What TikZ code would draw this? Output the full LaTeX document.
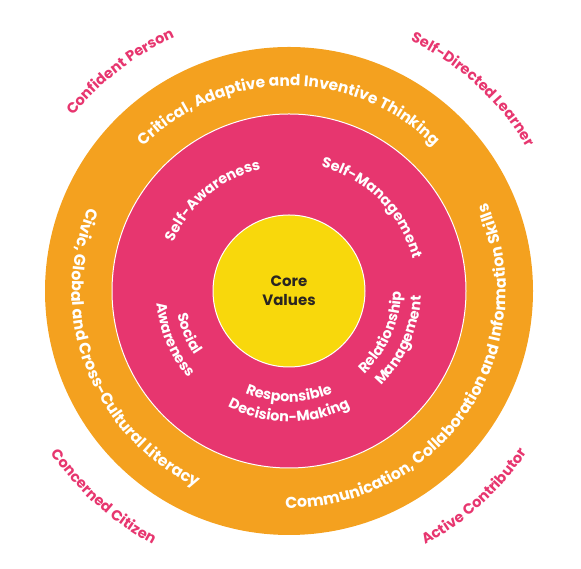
\documentclass[tikz,border=0pt]{standalone}
\usepackage{fontspec}
\setmainfont{Poppins}
\usepackage{tikz}
\usetikzlibrary{decorations.text, math}

\definecolor{ring-orange}{HTML}{F4A11F}
\definecolor{ring-pink}{HTML}{E7366F}
\definecolor{core-yellow}{HTML}{F8D80C}
\definecolor{core-dark}{HTML}{2A2522}

\begin{document}
\begin{tikzpicture}[x=1pt, y=1pt,
    arc-text/.style n args={3}{decorate, decoration={text along path, text align=center, text color=#1, text={|\bfseries\fontsize{#2}{#2}\selectfont|#3}}}]
    \tikzmath{\xC = 289; \yC = 278; \rOuter = 244; \rMid = 177; \rCore = 76;}
    \useasboundingbox (0,0) rectangle (581,569);

    \node[circle, inner sep=0pt, minimum size=2*\rOuter, fill=ring-orange](outer-ring) at (\xC,\yC) {};
    \node[circle, inner sep=0pt, minimum size=2*\rMid, fill=ring-pink, draw=white, line width=1pt](mid-ring) at (\xC,\yC) {};
    \node[circle, inner sep=0pt, minimum size=2*\rCore, fill=core-yellow, draw=white, line width=1pt](core-circle) at (\xC,\yC) {};

    \node[align=center, font=\bfseries\fontsize{15}{19}\selectfont, text=core-dark](core-values) at (\xC,\yC) {Core\\Values};

    \path[arc-text={ring-pink}{14.6}{Confident Person}] (outer-ring.center) ++(167.6:278) arc[start angle=167.6, end angle=87.6, radius=278];
    \path[arc-text={ring-pink}{14.6}{Self-Directed Learner}] (outer-ring.center) ++(97.6:278) arc[start angle=97.6, end angle=-2.4, radius=278];
    \path[arc-text={ring-pink}{14.6}{Concerned Citizen}] (outer-ring.center) ++(188:288) arc[start angle=188, end angle=268, radius=288];
    \path[arc-text={ring-pink}{14.6}{Active Contributor}] (outer-ring.center) ++(272:288) arc[start angle=272, end angle=352, radius=288];

    \path[arc-text={white}{15.4}{Critical, Adaptive and Inventive Thinking}] (outer-ring.center) ++(170:205) arc[start angle=170, end angle=10, radius=205];
    \path[arc-text={white}{15.8}{Civic, Global and Cross-Cultural Literacy}] (outer-ring.center) ++(121:217) arc[start angle=121, end angle=281, radius=217];
    \path[arc-text={white}{15.8}{Communication, Collaboration and Information Skills}] (outer-ring.center) ++(236.5:217) arc[start angle=236.5, end angle=416.5, radius=217];

    \path[arc-text={white}{14.4}{Self-Awareness}] (mid-ring.center) ++(190:125) arc[start angle=190, end angle=70, radius=125];
    \path[arc-text={white}{14.4}{Self-Management}] (mid-ring.center) ++(105:128) arc[start angle=105, end angle=-15, radius=128];
    \path[arc-text={white}{14.4}{Social}] (mid-ring.center) ++(143:114) arc[start angle=143, end angle=263, radius=114];
    \path[arc-text={white}{14.4}{Awareness}] (mid-ring.center) ++(143:133) arc[start angle=143, end angle=263, radius=133];
    \path[arc-text={white}{14.4}{Responsible}] (mid-ring.center) ++(210:111) arc[start angle=210, end angle=330, radius=111];
    \path[arc-text={white}{14.4}{Decision-Making}] (mid-ring.center) ++(210:131) arc[start angle=210, end angle=330, radius=131];
    \path[arc-text={white}{14.4}{Relationship}] (mid-ring.center) ++(276:112) arc[start angle=276, end angle=396, radius=112];
    \path[arc-text={white}{14.4}{Management}] (mid-ring.center) ++(276:132) arc[start angle=276, end angle=396, radius=132];
\end{tikzpicture}
\end{document}
